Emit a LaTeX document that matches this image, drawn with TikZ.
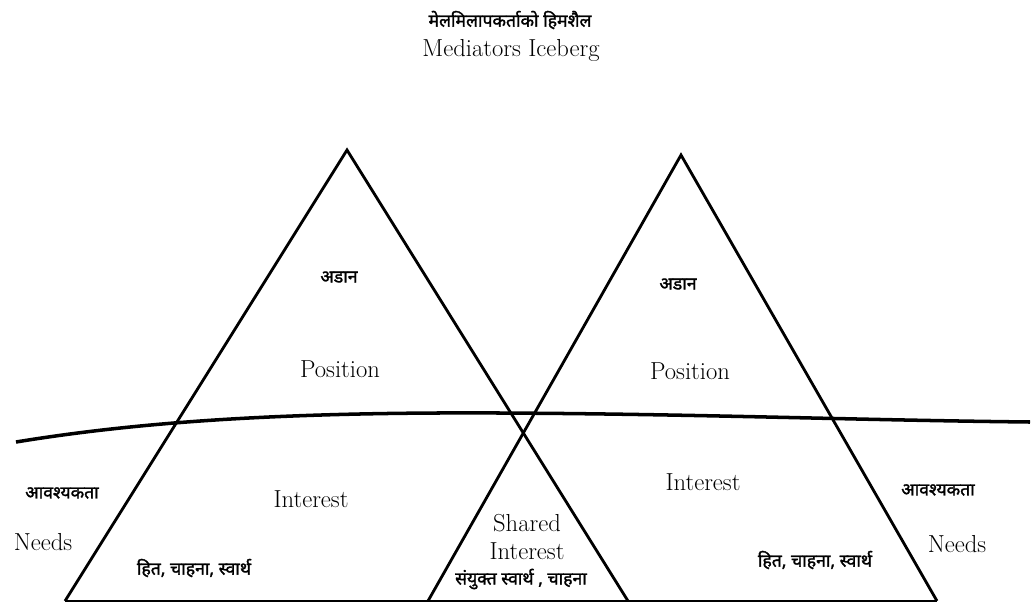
\documentclass[tikz,border=0pt]{standalone}
\usepackage{fontspec}
\newfontfamily\devfont[Script=Devanagari,FakeBold=1.6]{Noto Sans}
\usetikzlibrary{positioning,calc}

\begin{document}
\begin{tikzpicture}[
  x=0.03cm, y=-0.03cm,
  edge/.style={line width=2.4pt,line join=miter},
  water/.style={line width=3pt},
  lat/.style={font=\fontsize{21}{24}\selectfont,inner sep=0pt},
  dev/.style={font=\devfont\fontsize{15}{17}\selectfont,inner sep=0pt},
]
  \useasboundingbox (0,0) rectangle (1033,604);

  \coordinate (lapex) at (347,150);
  \coordinate (lbl)   at (65,601);
  \coordinate (lbr)   at (628,601);
  \coordinate (rapex) at (681,155);
  \coordinate (rbl)   at (428,601);
  \coordinate (rbr)   at (937,601);
  \coordinate (wstart) at (16,442);
  \coordinate (wmid)   at (500,413);
  \coordinate (wend)   at (1030,422);

  % two icebergs, one shared base
  \draw[edge] (lbl) -- (lapex) -- (lbr);
  \draw[edge] (rbl) -- (rapex) -- (rbr);
  \draw[edge] (lbl) -- (rbr);

  % water line
  \draw[water] (wstart) .. controls (150,420) and (300,412) .. (wmid)
               .. controls (700,414) and (850,420) .. (wend);

  \node[dev] (titledev) at (510,20) {मेलमिलापकर्ताको हिमशैल};
  \node[lat] (title) at (511,50) {Mediators Iceberg};

  \node[dev] (posdevl) at (339,277) {अडान};
  \node[lat] (posl) at (340,369) {Position};
  \node[dev] (posdevr) at (678,284) {अडान};
  \node[lat] (posr) at (690,371) {Position};

  \node[lat] (intl) at (311,499) {Interest};
  \node[lat] (intr) at (703,482) {Interest};
  \node[dev] (intdevl) at (194,568) {हित, चाहना, स्वार्थ};
  \node[dev] (intdevr) at (815,560) {हित, चाहना, स्वार्थ};

  \node[dev] (needdevl) at (62,493) {आवश्यकता};
  \node[lat] (needl) at (43,542) {Needs};
  \node[dev] (needdevr) at (938,490) {आवश्यकता};
  \node[lat] (needr) at (957,544) {Needs};

  \node[lat,align=center] (shared) at (527,537) {Shared\\Interest};
  \node[dev] (shareddev) at (521,579) {संयुक्त स्वार्थ , चाहना};
\end{tikzpicture}
\end{document}
